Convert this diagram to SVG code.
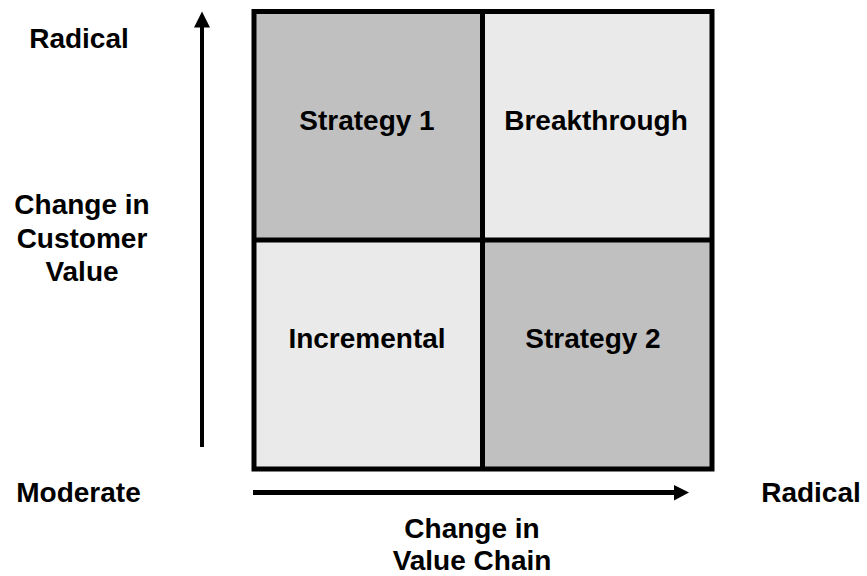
<svg xmlns="http://www.w3.org/2000/svg" width="867" height="576" viewBox="0 0 867 576">
<style>
text{font-family:"Liberation Sans",Arial,Helvetica,sans-serif;font-weight:bold;font-size:28px;fill:#000;text-anchor:middle}
.dark{fill:#C0C0C0}
.light{fill:#EAEAEA}
.grid{fill:none;stroke:#000;stroke-width:5}
.axis{stroke:#000;fill:none}
.head{fill:#000}
</style>
<rect width="867" height="576" fill="#fff"/>
<g id="strategy1"><rect class="dark" x="254" y="11.5" width="228.5" height="228.5"/><text x="367" y="129.5">Strategy 1</text></g>
<g id="breakthrough"><rect class="light" x="482.5" y="11.5" width="229.5" height="228.5"/><text x="596" y="129.5">Breakthrough</text></g>
<g id="incremental"><rect class="light" x="254" y="240" width="228.5" height="229"/><text x="367" y="347.5">Incremental</text></g>
<g id="strategy2"><rect class="dark" x="482.5" y="240" width="229.5" height="229"/><text x="593" y="347.5">Strategy 2</text></g>
<g id="grid-lines">
<rect class="grid" x="254" y="11.5" width="458" height="457.5"/>
<line class="grid" x1="482.5" y1="11.5" x2="482.5" y2="469"/>
<line class="grid" x1="254" y1="240" x2="712" y2="240"/>
</g>
<g id="connectors">
<line class="axis" stroke-width="4" x1="202" y1="447" x2="202" y2="26"/>
<polygon class="head" points="194,27.5 210,27.5 202,11.5"/>
<line class="axis" stroke-width="5" x1="253" y1="492.5" x2="675" y2="492.5"/>
<polygon class="head" points="674,485 674,500.5 689,492.5"/>
</g>
<g id="label-radical-y"><text x="79" y="47.5">Radical</text></g>
<g id="label-customer-value"><text x="82" y="213.5">Change in</text><text x="82" y="247.5">Customer</text><text x="82" y="281">Value</text></g>
<g id="label-moderate"><text x="78.5" y="501.5">Moderate</text></g>
<g id="label-radical-x"><text x="811" y="502">Radical</text></g>
<g id="label-value-chain"><text x="472" y="537.5">Change in</text><text x="472" y="569.5">Value Chain</text></g>
</svg>
